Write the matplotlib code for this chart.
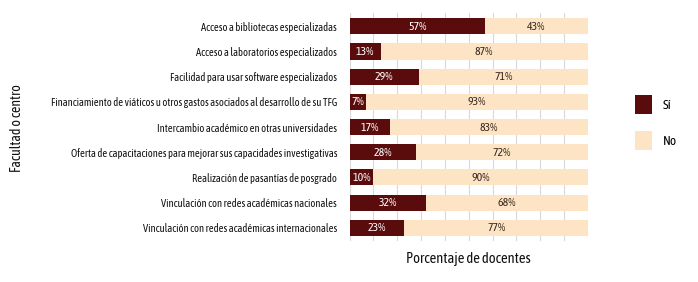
import matplotlib
matplotlib.use("Agg")
import matplotlib.pyplot as plt
from matplotlib.patches import Patch
import numpy as np

categories = [
    "Acceso a bibliotecas especializadas",
    "Acceso a laboratorios especializados",
    "Facilidad para usar software especializados",
    "Financiamiento de viáticos u otros gastos asociados al desarrollo de su TFG",
    "Intercambio académico en otras universidades",
    "Oferta de capacitaciones para mejorar sus capacidades investigativas",
    "Realización de pasantías de posgrado",
    "Vinculación con redes académicas nacionales",
    "Vinculación con redes académicas internacionales",
]
si = [57, 13, 29, 7, 17, 28, 10, 32, 23]
no = [43, 87, 71, 93, 83, 72, 90, 68, 77]
series_names = ["Sí", "No"]

FONT = ["Asap Condensed", "DejaVu Sans"]
plt.rcParams["font.family"] = FONT

c_si = "#5a0b0b"
c_no = "#fde4c4"

fig = plt.figure(figsize=(6.98, 2.82), dpi=100)
ax = fig.add_axes([0.501, 0.145, 0.341, 0.809])

y = np.arange(len(categories))
h = 0.64
ax.barh(y, si, height=h, color=c_si, zorder=2)
ax.barh(y, no, left=si, height=h, color=c_no, zorder=2)

for i in range(len(categories)):
    ax.text(si[i] / 2, y[i], f"{si[i]}%", ha="center", va="center",
            color="white", fontsize=8.5, zorder=3)
    ax.text(si[i] + no[i] / 2, y[i], f"{no[i]}%", ha="center", va="center",
            color="#3a2a20", fontsize=8.5, zorder=3)

ax.set_xlim(0, 100)
ax.set_ylim(len(categories) - 0.5 + 0.03, -0.5 - 0.03)
ax.set_xticks(np.arange(0, 101, 10))
ax.set_xticklabels([])
ax.tick_params(axis="x", length=0)
ax.tick_params(axis="y", length=0, pad=9)
ax.set_yticks(y)
ax.set_yticklabels(categories, fontsize=7.6, color="#111111")
ax.grid(axis="x", color="#d9d9d9", linewidth=0.8, zorder=0)
for s in ax.spines.values():
    s.set_visible(False)

ax.set_xlabel("Porcentaje de docentes", fontsize=10.5, color="#111111", labelpad=4)
fig.text(0.024, 0.545, "Facultad o centro", rotation=90, ha="center", va="center",
         fontsize=10, color="#111111")

handles = [Patch(facecolor=c_si), Patch(facecolor=c_no)]
fig.legend(handles, series_names, loc="center left", bbox_to_anchor=(0.893, 0.566),
           frameon=False, handlelength=1.3, handleheight=1.8,
           labelspacing=1.3, handletextpad=0.8, prop={"size": 9.5})

fig.savefig("out.png", dpi=100)
